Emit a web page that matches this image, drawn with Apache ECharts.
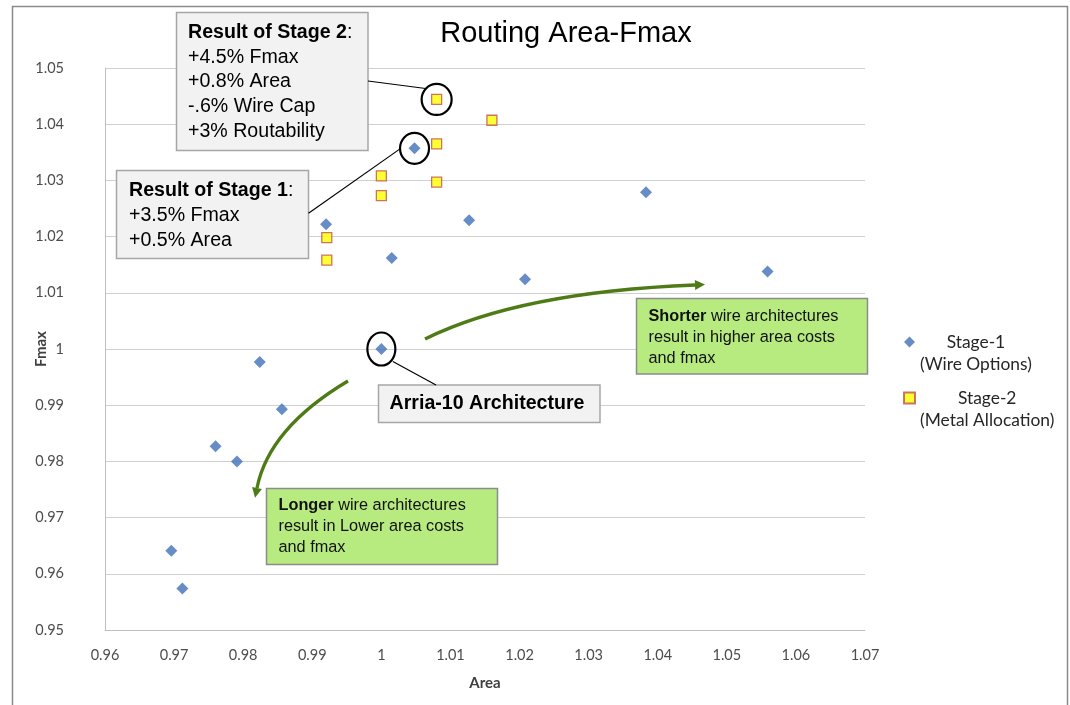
<!DOCTYPE html>
<html><head><meta charset="utf-8">
<script src="https://cdn.jsdelivr.net/npm/echarts@6/dist/echarts.min.js"></script>
<style>html,body{margin:0;padding:0;background:#fff}#c{width:1070px;height:705px}</style>
</head><body><div id="c"></div>
<script>
// ---- data ----
const seriesNames = ['Stage-1', 'Stage-2'];
const legendLines = [['Stage-1', '(Wire Options)'], ['Stage-2', '(Metal Allocation)']];
const stage1Area = [1.0000, 1.0048, 0.9920, 1.0015, 1.0127, 1.0208, 1.0383, 1.0559, 0.9824, 0.9856, 0.9760, 0.9791, 0.9696, 0.9712];
const stage1Fmax = [1.0000, 1.0357, 1.0222, 1.0162, 1.0229, 1.0124, 1.0279, 1.0138, 0.9977, 0.9893, 0.9827, 0.9800, 0.9641, 0.9574];
const stage2Area = [1.0080, 1.0160, 1.0080, 1.0000, 1.0000, 1.0080, 0.9921, 0.9921];
const stage2Fmax = [1.0444, 1.0407, 1.0365, 1.0308, 1.0273, 1.0297, 1.0198, 1.0158];
const xAxisRange = [0.96, 1.07, 0.01];
const yAxisRange = [0.95, 1.05, 0.01];
const titleText = 'Routing Area-Fmax';
const xName = 'Area', yName = 'Fmax';
const stage2Note = ['+4.5% Fmax', '+0.8% Area', '-.6% Wire Cap', '+3% Routability'];
const stage1Note = ['+3.5% Fmax', '+0.5% Area'];
const archNote = 'Arria-10 Architecture';
const shorterNote = ['Shorter', ' wire architectures', 'result in higher area costs', 'and fmax'];
const longerNote = ['Longer', ' wire architectures', 'result in Lower area costs', 'and fmax'];

const zip = (a, b) => a.map((v, i) => [v, b[i]]);
const fmt = v => String(+(+v).toFixed(2));
const ARIAL = 'Liberation Sans, Arial, sans-serif';
const CAL = 'Lato, Liberation Sans, sans-serif';

const chart = echarts.init(document.getElementById('c'), null, {renderer: 'canvas'});
const option = {
  animation: false,
  backgroundColor: '#ffffff',
  title: {
    text: titleText, left: 566, top: 34, padding: 0,
    textAlign: 'center', textVerticalAlign: 'middle',
    textStyle: {fontFamily: ARIAL, fontSize: 29, fontWeight: 'normal', color: '#000'}
  },
  grid: {left: 105, right: 205, top: 68, bottom: 75, containLabel: false, outerBoundsMode: 'none'},
  xAxis: {
    type: 'value', min: xAxisRange[0], max: xAxisRange[1], interval: xAxisRange[2],
    name: xName, nameLocation: 'middle', nameGap: 46, nameMoveOverlap: false,
    nameTextStyle: {fontFamily: CAL, fontSize: 15, fontWeight: 'bold', color: '#404040'},
    axisLine: {show: true, onZero: false, lineStyle: {color: '#bfbfbf', width: 1}},
    axisTick: {show: false},
    splitLine: {show: false},
    axisLabel: {formatter: fmt, margin: 18, fontFamily: CAL, fontSize: 14.5, color: '#4d4d4d'}
  },
  yAxis: {
    type: 'value', min: yAxisRange[0], max: yAxisRange[1], interval: yAxisRange[2],
    name: yName, nameLocation: 'middle', nameGap: 56, nameRotate: 90, nameMoveOverlap: false,
    nameTextStyle: {fontFamily: CAL, fontSize: 15, fontWeight: 'bold', color: '#404040'},
    axisLine: {show: true, onZero: false, lineStyle: {color: '#bfbfbf', width: 1}},
    axisTick: {show: false},
    splitLine: {show: true, lineStyle: {color: '#d0d0d0', width: 1}},
    axisLabel: {formatter: fmt, margin: 41, fontFamily: CAL, fontSize: 14.5, color: '#4d4d4d'}
  },
  legend: {
    orient: 'vertical', left: 903, top: 311.5, padding: 0, itemGap: -5,
    itemWidth: 11, itemHeight: 11, selectedMode: false,
    data: [{name: seriesNames[0], icon: 'diamond'}, {name: seriesNames[1], icon: 'rect'}],
    formatter: name => {
      const l = legendLines[seriesNames.indexOf(name)];
      return '{c| }\n{c|' + l[0] + '}\n{c|' + l[1] + '}';
    },
    textStyle: {rich: {c: {align: 'center', fontFamily: CAL, fontSize: 17.4, lineHeight: 22, color: '#262626'}}}
  },
  series: [
    {name: seriesNames[0], type: 'scatter', symbol: 'diamond', symbolSize: 12,
     itemStyle: {color: '#4170b8'}, data: zip(stage1Area, stage1Fmax), z: 3},
    {name: seriesNames[1], type: 'scatter', symbol: 'rect', symbolSize: 10,
     itemStyle: {color: '#ffff00', borderColor: '#c0504d', borderWidth: 1.3}, data: zip(stage2Area, stage2Fmax), z: 3}
  ]
};
chart.setOption(option);

// ---- annotations ----
const px = (a, f) => chart.convertToPixel({gridIndex: 0}, [a, f]);
const c2 = px(stage2Area[0], stage2Fmax[0]);
const c1 = px(stage1Area[1], stage1Fmax[1]);
const c0 = px(stage1Area[0], stage1Fmax[0]);
const GREEN = '#4f7b17';
const grayBox = (x, y, w, h) => ({type: 'rect', shape: {x, y, width: w, height: h}, style: {fill: '#f2f2f2', stroke: '#a6a6a6', lineWidth: 1.5}, z: 10});
const greenBox = (x, y, w, h) => ({type: 'rect', shape: {x, y, width: w, height: h}, style: {fill: '#b7eb80', stroke: '#8c8c8c', lineWidth: 1.5}, z: 10});
const ring = (c, rx, ry) => ({type: 'ellipse', shape: {cx: c[0], cy: c[1], rx, ry}, style: {fill: 'none', stroke: '#000', lineWidth: 2.2}, z: 11});
const seg = (x1, y1, x2, y2) => ({type: 'line', shape: {x1, y1, x2, y2}, style: {stroke: '#000', lineWidth: 1.2}, z: 11});
function arrow(p0, cp, p2, len, half) {
  const dx = p2[0] - cp[0], dy = p2[1] - cp[1], d = Math.hypot(dx, dy);
  const ux = dx / d, uy = dy / d;
  const tip = [p2[0] + ux * len, p2[1] + uy * len];
  return [
    {type: 'bezierCurve', shape: {x1: p0[0], y1: p0[1], x2: p2[0], y2: p2[1], cpx1: cp[0], cpy1: cp[1]},
     style: {fill: 'none', stroke: GREEN, lineWidth: 3.3}, z: 9},
    {type: 'polygon', shape: {points: [tip, [p2[0] - uy * half, p2[1] + ux * half], [p2[0] + uy * half, p2[1] - ux * half]]},
     style: {fill: GREEN}, z: 9}
  ];
}
const richGray = {
  b: {fontFamily: ARIAL, fontSize: 19.6, fontWeight: 'bold', lineHeight: 24.8, fill: '#000'},
  n: {fontFamily: ARIAL, fontSize: 19.6, lineHeight: 24.8, fill: '#000'}
};
const richGreen = {
  b: {fontFamily: ARIAL, fontSize: 16.3, fontWeight: 'bold', lineHeight: 20.8, fill: '#111'},
  n: {fontFamily: ARIAL, fontSize: 16.3, lineHeight: 20.8, fill: '#111'}
};
const greenText = note => '{b|' + note[0] + '}{n|' + note[1] + '}\n{n|' + note[2] + '}\n{n|' + note[3] + '}';

const graphics = [
  {type: 'rect', shape: {x: 12.5, y: 6.5, width: 1055, height: 730}, style: {fill: 'none', stroke: '#8a8a8a', lineWidth: 1.5}, z: 1},
  // Stage 2 result
  seg(368, 81, c2[0] - 11, c2[1] - 11),
  grayBox(176.5, 12.5, 191.5, 138),
  {type: 'text', x: 188, y: 20, z: 12, style: {
    text: '{b|Result of Stage 2}{n|:}\n' + stage2Note.map(t => '{n|' + t + '}').join('\n'),
    rich: richGray, verticalAlign: 'top', align: 'left'}},
  ring(c2, 15, 15.5),
  // Stage 1 result
  seg(308.5, 213.3, c1[0] - 14.5, c1[1] + 0.5),
  grayBox(116.5, 170.5, 192, 88),
  {type: 'text', x: 129, y: 178.3, z: 12, style: {
    text: '{b|Result of Stage 1}{n|:}\n' + stage1Note.map(t => '{n|' + t + '}').join('\n'),
    rich: richGray, verticalAlign: 'top', align: 'left'}},
  ring(c1, 14.5, 15.5),
  // Arria-10
  ring(c0, 14, 16.5),
  seg(c0[0] + 11.5, c0[1] + 12.5, 436, 385),
  grayBox(378.5, 385, 221.5, 37.5),
  {type: 'text', x: 487, y: 404, z: 12, style: {text: archNote, font: 'bold 19.6px ' + ARIAL, fill: '#000', align: 'center', verticalAlign: 'middle'}},
  // green notes
  greenBox(636.5, 298.5, 231, 75.5),
  {type: 'text', x: 648.5, y: 306.5, z: 12, style: {text: greenText(shorterNote), rich: richGreen, verticalAlign: 'top', align: 'left'}},
  greenBox(266.5, 488.5, 231, 76),
  {type: 'text', x: 278.5, y: 495.5, z: 12, style: {text: greenText(longerNote), rich: richGreen, verticalAlign: 'top', align: 'left'}},
  ...arrow([425, 339], [520, 292], [695, 285], 10, 5),
  ...arrow([348, 381], [269, 428], [257, 488], 10, 5)
];
chart.setOption({graphic: {elements: graphics}});
</script>
</body></html>
